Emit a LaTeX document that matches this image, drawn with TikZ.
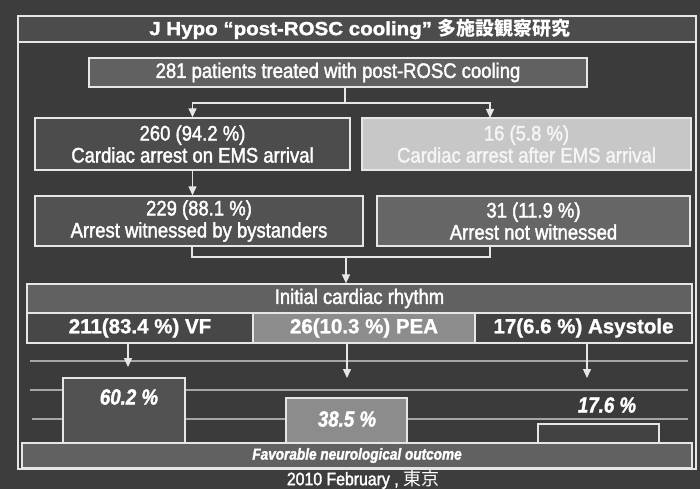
\documentclass[tikz,border=0pt]{standalone}
\usepackage{fontspec}
\setmainfont{Liberation Sans}
\newfontfamily\nar[FakeStretch=0.88,FakeBold=1.8]{Liberation Sans}
\newfontfamily\wide[FakeStretch=1.08,FakeBold=1.5]{Liberation Sans}
\newfontfamily\cond[FakeStretch=0.85,FakeBold=1.5]{Liberation Sans}
\newfontfamily\heavy[FakeBold=1.2]{Liberation Sans}
\newfontfamily\jp{Noto Sans CJK JP}
\usetikzlibrary{arrows.meta}
\definecolor{bg}{HTML}{3D3D3D}
\definecolor{frameln}{HTML}{E6E6E6}
\tikzset{
  flowbox/.style={draw=frameln, line width=1.4pt, inner sep=0pt, align=center, text=white},
  cellbox/.style={draw=frameln, line width=1.2pt, inner sep=0pt, align=center, text=white},
  conn/.style={draw=frameln, line width=1.4pt},
  arr/.style={conn, -{Triangle[width=8pt,length=9pt]}},
  grid/.style={draw=gray!70, line width=1.2pt},
  flowtxt/.style={font=\nar\fontsize{21}{23}\selectfont},
  celltxt/.style={font=\heavy\bfseries\fontsize{20.5}{23}\selectfont},
  bartxt/.style={font=\cond\bfseries\itshape\fontsize{22}{24}\selectfont, text=white},
}
\begin{document}
\begin{tikzpicture}[x=1pt,y=-1pt]
\useasboundingbox (0,0) rectangle (700,489);
\fill[bg] (0,0) rectangle (700,489);
\fill[black!77] (18,16) rectangle (696,469);
% frame and title bar
\node[draw=frameln, line width=1.2pt, fill=black!70, minimum width=678pt, minimum height=26pt, inner sep=0pt] (titlebar) at (357,29) {};
\node[text=white, font=\wide\bfseries\fontsize{19}{21}\selectfont] (title) at (360,29) {J Hypo “post-ROSC cooling” {\jp\bfseries 多施設観察研究}};
\draw[draw=frameln, line width=1.2pt] (18,16) rectangle (696,469);

% level 1
\node[flowbox, fill=black!62, minimum width=498pt, minimum height=29pt, flowtxt] (b1) at (338,72.5) {281 patients treated with post-ROSC cooling};
% level 2
\node[flowbox, fill=black!70, minimum width=315pt, minimum height=52pt, flowtxt] (b2l) at (192.5,144) {260 (94.2 \%)\\[-1pt]Cardiac arrest on EMS arrival};
\node[flowbox, fill=black!22, text=black!4, minimum width=329pt, minimum height=52pt, flowtxt] (b2r) at (526.5,144) {16 (5.8 \%)\\[-1pt]Cardiac arrest after EMS arrival};
% level 3
\node[flowbox, fill=black!68, minimum width=328pt, minimum height=50pt, flowtxt] (b3l) at (199,221) {229 (88.1 \%)\\[-1pt]Arrest witnessed by bystanders};
\node[flowbox, fill=black!60, minimum width=313pt, minimum height=50pt, flowtxt] (b3r) at (533.5,221) {31 (11.9 \%)\\[-1pt]Arrest not witnessed};

% connectors level 1 -> 2
\coordinate (j1) at (345,103);
\coordinate (b2rin) at (490,118);
\draw[conn] (j1 |- b1.south) -- (j1);
\draw[arr] (j1) -| (b2l.north);
\draw[arr] (j1) -| (b2rin);
% level 2 -> 3
\draw[arr] (b2l.south) -- (b2l.south |- b3l.north);
% level 3 -> rhythm
\coordinate (b3lout) at (192,246);
\coordinate (b3rout) at (490,246);
\coordinate (j2) at (346,257);
\draw[conn] (b3lout) |- (j2) -| (b3rout);

% rhythm box
\node[cellbox, fill=black!62, minimum width=665pt, minimum height=29pt, flowtxt] (hdr) at (359.5,298.5) {Initial cardiac rhythm};
\draw[arr] (j2) -- (j2 |- hdr.north);
\node[cellbox, fill=black!72, minimum width=226pt, minimum height=30pt, celltxt] (vf) at (140,328) {211(83.4 \%) VF};
\node[cellbox, fill=black!45, minimum width=222pt, minimum height=30pt, celltxt] (pea) at (364,328) {26(10.3 \%) PEA};
\node[cellbox, fill=black!74, minimum width=217pt, minimum height=30pt, celltxt] (asy) at (583.5,328) {17(6.6 \%) Asystole};

% grid lines
\coordinate (gl1) at (30,361); \coordinate (gr1) at (688,361);
\coordinate (gl2) at (30,390); \coordinate (gr2) at (688,390);
\coordinate (gl3) at (32,419); \coordinate (gr3) at (688,419);
\draw[grid] (gl1) -- (gr1);
\draw[grid] (gl2) -- (gr2);
\draw[grid] (gl3) -- (gr3);

% arrows to bars
\coordinate (vfend) at (128,367);
\coordinate (peaend) at (347,378);
\coordinate (asyend) at (587,378);
\draw[arr] (vfend |- vf.south) -- (vfend);
\draw[arr] (peaend |- pea.south) -- (peaend);
\draw[arr] (asyend |- asy.south) -- (asyend);

% bars
\node[cellbox, fill=black!68, minimum width=122pt, minimum height=66pt] (bar1) at (124,411) {};
\node[cellbox, fill=black!45, minimum width=121pt, minimum height=46pt] (bar2) at (346.5,421) {};
\node[cellbox, fill=black!74, minimum width=121pt, minimum height=20pt] (bar3) at (598.5,434) {};
\node[bartxt] (l1) at (129,397) {60.2 \%};
\node[bartxt] (l2) at (347,419) {38.5 \%};
\node[bartxt] (l3) at (607,405) {17.6 \%};

% outcome band
\node[cellbox, fill=black!62, minimum width=670pt, minimum height=25pt, font=\cond\bfseries\itshape\fontsize{16}{18}\selectfont] (band) at (357,455.5) {Favorable neurological outcome};
\draw[draw=frameln, line width=1.2pt] (18,469) -- (696,469);

% footer
\node[text=white, font=\nar\fontsize{18}{20}\selectfont] (foot) at (363,479.5) {2010 February , {\jp 東京}};
\end{tikzpicture}
\end{document}
